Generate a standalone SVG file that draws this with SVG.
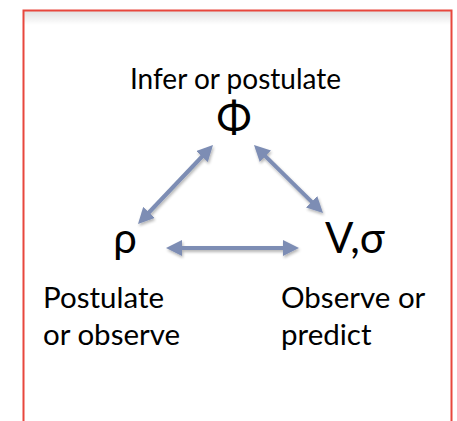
<svg xmlns="http://www.w3.org/2000/svg" width="457" height="421" viewBox="0 0 457 421">
<defs>
<style>
.t{font-family:Lato,"Open Sans","Liberation Sans",sans-serif;fill:#000}
.lbl{font-size:28px}
.lbl2{font-size:29.5px}
.sym{font-size:42px}
.conn line{stroke:#7d8db4;stroke-width:4;marker-start:url(#ah);marker-end:url(#ah)}
</style>
<marker id="ah" viewBox="0 0 10 10" refX="7" refY="5" markerWidth="4" markerHeight="4" orient="auto-start-reverse" markerUnits="strokeWidth">
<path d="M0,0 L10,5 L0,10 z" fill="#7d8db4"/>
</marker>
<filter id="sh" x="-20%" y="-20%" width="140%" height="140%">
<feGaussianBlur in="SourceAlpha" stdDeviation="1.5"/>
<feOffset dx="1" dy="2" result="b"/>
<feComponentTransfer><feFuncA type="linear" slope="0.3"/></feComponentTransfer>
<feMerge><feMergeNode/><feMergeNode in="SourceGraphic"/></feMerge>
</filter>
<linearGradient id="topsh" x1="0" y1="0" x2="0" y2="1">
<stop offset="0" stop-color="#000" stop-opacity="0.12"/>
<stop offset="1" stop-color="#000" stop-opacity="0"/>
</linearGradient>
</defs>
<rect x="0" y="0" width="457" height="421" fill="#fff"/>
<rect x="24" y="11" width="427" height="14" fill="url(#topsh)"/>
<rect x="23.5" y="10.5" width="428" height="420" fill="none" stroke="#e8473d" stroke-width="2"/>
<g id="phi">
<text class="t lbl" x="235.5" y="89" text-anchor="middle">Infer or postulate</text>
<text class="t sym" x="234" y="133" text-anchor="middle">Φ</text>
</g>
<g id="rho">
<text class="t sym" x="125" y="253" text-anchor="middle">ρ</text>
<text class="t lbl2" x="43" y="308">Postulate</text>
<text class="t lbl2" x="43" y="345">or observe</text>
</g>
<g id="vsigma">
<text class="t sym" x="355" y="253" text-anchor="middle">V,σ</text>
<text class="t lbl2" x="281" y="308">Observe or</text>
<text class="t lbl2" x="281" y="345">predict</text>
</g>
<g class="conn" filter="url(#sh)">
<line x1="141.3" y1="220.5" x2="209.7" y2="148.5"/>
<line x1="257.4" y1="148.4" x2="319.6" y2="209.6"/>
<line x1="170.8" y1="248" x2="294.2" y2="248"/>
</g>
</svg>
